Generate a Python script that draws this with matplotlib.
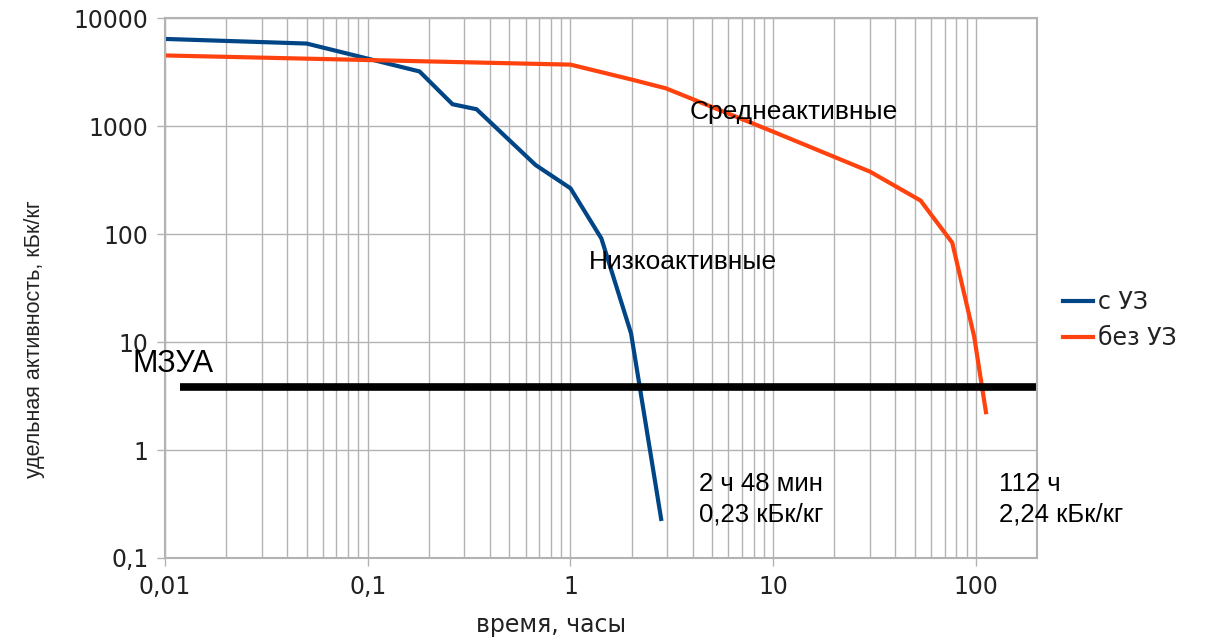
import matplotlib
matplotlib.use("Agg")
from matplotlib import pyplot as plt
from matplotlib.ticker import FixedLocator, FixedFormatter, LogLocator, NullFormatter

# с УЗ (синяя кривая)
t_uz = [0.01, 0.05, 0.18, 0.262, 0.344, 0.673, 1.0, 1.42, 1.99, 2.8]
a_uz = [6400, 5800, 3200, 1590, 1430, 435, 265, 91, 12, 0.23]

# без УЗ (оранжевая кривая)
t_bez = [0.01, 1.0, 1.99, 2.96, 10, 30, 53.3, 76.4, 98, 112]
a_bez = [4500, 3700, 2700, 2230, 885, 378, 204, 83, 11.2, 2.24]

# МЗУА
mzua_t = [0.0118, 200]
mzua_a = [3.8, 3.8]

x_ticks = [0.01, 0.1, 1, 10, 100]
x_labels = ["0,01", "0,1", "1", "10", "100"]
y_ticks = [0.1, 1, 10, 100, 1000, 10000]
y_labels = ["0,1", "1", "10", "100", "1000", "10000"]

seriya = ["с УЗ", "без УЗ"]

fig = plt.figure(figsize=(12.1, 6.39), dpi=100)
ax = fig.add_axes([165 / 1210, 1 - 558 / 639, 872 / 1210, 540 / 639])

ax.plot(t_uz, a_uz, color="#004586", lw=3, label=seriya[0], solid_joinstyle="miter")
ax.plot(t_bez, a_bez, color="#ff420e", lw=3, label=seriya[1], solid_joinstyle="miter")
ax.plot(mzua_t, mzua_a, color="black", lw=5.5, solid_capstyle="butt")

ax.set_xscale("log")
ax.set_yscale("log")
ax.set_xlim(0.01, 200)
ax.set_ylim(0.1, 10000)

ax.xaxis.set_major_locator(FixedLocator(x_ticks))
ax.xaxis.set_major_formatter(FixedFormatter(x_labels))
ax.xaxis.set_minor_locator(LogLocator(base=10, subs=range(2, 10), numticks=20))
ax.xaxis.set_minor_formatter(NullFormatter())
ax.yaxis.set_major_locator(FixedLocator(y_ticks))
ax.yaxis.set_major_formatter(FixedFormatter(y_labels))
ax.yaxis.set_minor_locator(FixedLocator([]))

grid_c = "#b3b3b3"
ax.grid(True, which="major", axis="both", color=grid_c, lw=1)
ax.grid(True, which="minor", axis="x", color=grid_c, lw=1)
ax.set_axisbelow(True)
for s in ax.spines.values():
    s.set_color(grid_c)
    s.set_linewidth(1.5)

ax.tick_params(which="major", length=6, width=1, color=grid_c, pad=6,
               labelsize=17, labelcolor="#222222")
ax.tick_params(which="minor", length=0)
for lab in ax.get_xticklabels() + ax.get_yticklabels():
    lab.set_family("DejaVu Sans")

ax.set_xlabel("время, часы", fontsize=17, family="DejaVu Sans", color="#222222")
ax.xaxis.set_label_coords(0.443, -0.124)
ax.xaxis.label.set_va("center")
ax.set_ylabel("удельная активность, кБк/кг", fontsize=15.5, family="Liberation Sans",
              color="#222222")
ax.yaxis.set_label_coords(-0.150, 0.405)
ax.yaxis.label.set_va("center")

f = "Liberation Sans"
ax.text(0.00695, 5.27, "МЗУА", fontsize=22, family=f, va="baseline", clip_on=False)
ax.text(3.86, 1161, "Среднеактивные", fontsize=19, family=f, va="baseline")
ax.text(1.23, 47, "Низкоактивные", fontsize=19, family=f, va="baseline")
ax.text(4.29, 0.42, "2 ч 48 мин", fontsize=18.5, family=f, va="baseline")
ax.text(4.29, 0.217, "0,23 кБк/кг", fontsize=18.5, family=f, va="baseline")
ax.text(129.7, 0.42, "112 ч", fontsize=18.5, family=f, va="baseline", clip_on=False)
ax.text(129.7, 0.217, "2,24 кБк/кг", fontsize=18.5, family=f, va="baseline", clip_on=False)

leg = fig.legend(handles=ax.get_lines()[:2], loc="center left",
                 bbox_to_anchor=(1063 / 1210, 1 - 320 / 639), frameon=False,
                 borderaxespad=0, borderpad=0, handlelength=1.25, handletextpad=0.25,
                 labelspacing=0.5, prop={"family": "DejaVu Sans", "size": 17})
for t in leg.get_texts():
    t.set_color("#222222")

fig.savefig("out.png", dpi=100)
